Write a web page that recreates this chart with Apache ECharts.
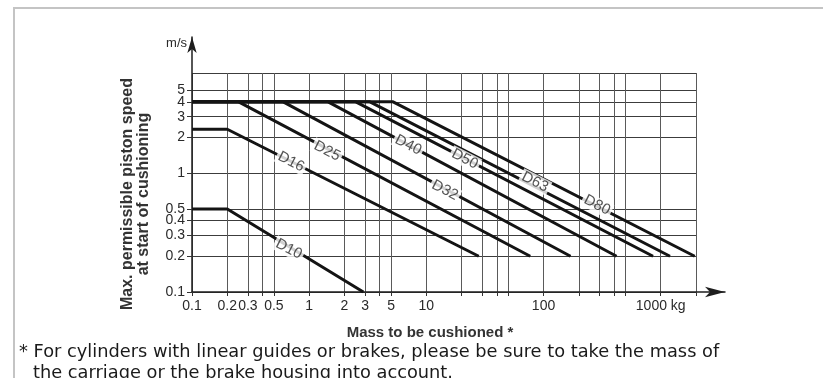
<!DOCTYPE html>
<html>
<head>
<meta charset="utf-8">
<title>Max. permissible piston speed at start of cushioning</title>
<script src="https://cdn.jsdelivr.net/npm/echarts@6/dist/echarts.min.js"></script>
<style>
  html, body { margin: 0; padding: 0; background: #fff; }
  #chart { width: 823px; height: 378px; }
</style>
</head>
<body>
<div id="chart"></div>
<script>
// Cylinder bore sizes and their cushioning limits (mass in kg, speed in m/s)
const sizes        = ['D10', 'D16', 'D25', 'D32', 'D40', 'D50', 'D63', 'D80'];
const plateauSpeed = [0.5, 2.35, 4, 4, 4, 4, 4, 4];
const kneeMass     = [0.2, 0.2, 0.25, 0.6, 1.45, 2.5, 3.3, 5.2];
const endMass      = [2.9, 28, 77, 170, 420, 860, 1200, 1950];
const endSpeed     = [0.1, 0.2, 0.2, 0.2, 0.2, 0.2, 0.2, 0.2];
const startMass    = 0.1;

// Where each bore label sits along its line
const labelMass  = [0.67, 0.70, 1.42, 14.4, 7.0, 21.3, 84.5, 286];
const labelSpeed = [0.23, 1.25, 1.54, 0.72, 1.73, 1.32, 0.845, 0.54];

// Axis ranges, grid lines and tick labels
const xMin = 0.1, xMax = 2000;
const yMin = 0.1, yMax = 7;
const xGridValues  = [0.1, 0.2, 0.3, 0.4, 0.5, 1, 2, 3, 4, 5, 10, 20, 30, 40, 50, 100, 200, 300, 400, 500, 1000, 2000];
const xLabelValues = [0.1, 0.2, 0.3, 0.5, 1, 2, 3, 5, 10, 100, 1000];
const yGridValues  = [0.1, 0.2, 0.3, 0.4, 0.5, 1, 2, 3, 4, 5, 7];
const yLabelValues = [0.1, 0.2, 0.3, 0.4, 0.5, 1, 2, 3, 4, 5];
const xUnit = 'kg';

const narrow = "'Liberation Sans Narrow', 'Liberation Sans', Arial, sans-serif";
const sans = "'Liberation Sans', Arial, sans-serif";

const lineSeries = sizes.map(function (name, i) {
  return {
    name: name,
    type: 'line',
    xAxisIndex: 0,
    yAxisIndex: 0,
    data: [
      [startMass, plateauSpeed[i]],
      [kneeMass[i], plateauSpeed[i]],
      [endMass[i], endSpeed[i]]
    ],
    symbol: 'none',
    lineStyle: { color: '#141414', width: 3 },
    z: 3,
    silent: true
  };
});

const labelSeries = {
  type: 'scatter',
  xAxisIndex: 0,
  yAxisIndex: 0,
  symbolSize: 2,
  itemStyle: { color: 'rgba(255,255,255,0)' },
  z: 5,
  silent: true,
  data: sizes.map(function (name, i) {
    return { name: name, value: [labelMass[i], labelSpeed[i]] };
  }),
  label: {
    show: true,
    position: 'inside',
    formatter: '{b}',
    rotate: -27,
    color: '#2a2a2a',
    fontFamily: sans,
    fontSize: 15,
    backgroundColor: '#ffffff',
    padding: [0, 2, 0, 2]
  },
  labelLayout: { hideOverlap: false }
};

// The top edge gets an empty label so the crowded 5/4/3 labels are all kept
const yAxisLabelSlots = yLabelValues.concat([yMax]);

const chart = echarts.init(document.getElementById('chart'), null, { renderer: 'canvas' });

chart.setOption({
  backgroundColor: '#ffffff',
  animation: false,
  grid: [
    { left: 192, right: 127, top: 73, bottom: 86 },
    { left: 192, right: 98, top: 37, bottom: 86 }
  ],
  xAxis: [
    {
      type: 'log',
      gridIndex: 0,
      min: xMin,
      max: xMax,
      logBase: 10,
      axisLine: { show: false },
      axisTick: {
        show: true,
        customValues: xGridValues,
        length: 4,
        lineStyle: { color: '#333', width: 1 }
      },
      axisLabel: {
        customValues: xLabelValues,
        hideOverlap: false,
        showMinLabel: true,
        showMaxLabel: true,
        margin: 7,
        color: '#2a2a2a',
        fontFamily: narrow,
        fontSize: 14,
        formatter: function (v) {
          return v === 1000 ? '1000 ' + xUnit : String(v);
        }
      },
      splitLine: { show: true, lineStyle: { color: '#5a5a5a', width: 1 } },
      minorTick: { show: false },
      minorSplitLine: { show: false }
    },
    {
      type: 'value',
      gridIndex: 1,
      min: 0,
      max: 1,
      axisLine: {
        show: true,
        symbol: ['none', 'arrow'],
        symbolSize: [8, 20],
        lineStyle: { color: '#1e1e1e', width: 1.5 }
      },
      axisTick: { show: false },
      axisLabel: { show: false },
      splitLine: { show: false }
    }
  ],
  yAxis: [
    {
      type: 'log',
      gridIndex: 0,
      min: yMin,
      max: yMax,
      logBase: 10,
      axisLine: { show: false },
      axisTick: {
        show: true,
        customValues: yGridValues,
        length: 5,
        lineStyle: { color: '#333', width: 1 }
      },
      axisLabel: {
        customValues: yAxisLabelSlots,
        hideOverlap: false,
        showMinLabel: true,
        showMaxLabel: false,
        margin: 7,
        color: '#2a2a2a',
        fontFamily: narrow,
        fontSize: 14,
        formatter: function (v) {
          return yLabelValues.indexOf(v) >= 0 ? String(v) : '';
        }
      },
      splitLine: { show: true, lineStyle: { color: '#3c3c3c', width: 1 } },
      minorTick: { show: false },
      minorSplitLine: { show: false }
    },
    {
      type: 'value',
      gridIndex: 1,
      min: 0,
      max: 1,
      axisLine: {
        show: true,
        symbol: ['none', 'arrow'],
        symbolSize: [7, 16],
        lineStyle: { color: '#1e1e1e', width: 1.5 }
      },
      axisTick: { show: false },
      axisLabel: { show: false },
      splitLine: { show: false }
    }
  ],
  series: lineSeries.concat([labelSeries]),
  graphic: [
    // page frame
    {
      type: 'polyline',
      shape: { points: [[14, 378], [14, 8], [823, 8]] },
      style: { stroke: '#c4c4c4', lineWidth: 2, fill: null },
      silent: true
    },
    {
      type: 'text',
      x: 187, y: 43,
      style: {
        text: 'm/s', align: 'right', verticalAlign: 'middle',
        font: "13px 'Liberation Sans Narrow', 'Liberation Sans', Arial, sans-serif",
        fill: '#2a2a2a'
      }
    },
    {
      type: 'text',
      x: 128, y: 194,
      rotation: Math.PI / 2,
      style: {
        text: 'Max. permissible piston speed', align: 'center', verticalAlign: 'middle',
        font: "bold 16px 'Liberation Sans', Arial, sans-serif",
        fill: '#333'
      }
    },
    {
      type: 'text',
      x: 144, y: 194,
      rotation: Math.PI / 2,
      style: {
        text: 'at start of cushioning', align: 'center', verticalAlign: 'middle',
        font: "bold 16px 'Liberation Sans', Arial, sans-serif",
        fill: '#333'
      }
    },
    {
      type: 'text',
      x: 430, y: 333,
      style: {
        text: 'Mass to be cushioned *', align: 'center', verticalAlign: 'middle',
        font: "bold 15px 'Liberation Sans', Arial, sans-serif",
        fill: '#333'
      }
    },
    {
      type: 'text',
      x: 19, y: 352,
      style: {
        text: '* For cylinders with linear guides or brakes, please be sure to take the mass of',
        align: 'left', verticalAlign: 'middle',
        font: "17.8px 'DejaVu Sans', 'Liberation Sans', Arial, sans-serif",
        fill: '#1a1a1a'
      }
    },
    {
      type: 'text',
      x: 33, y: 373,
      style: {
        text: 'the carriage or the brake housing into account.',
        align: 'left', verticalAlign: 'middle',
        font: "17.8px 'DejaVu Sans', 'Liberation Sans', Arial, sans-serif",
        fill: '#1a1a1a'
      }
    }
  ]
});
</script>
</body>
</html>
